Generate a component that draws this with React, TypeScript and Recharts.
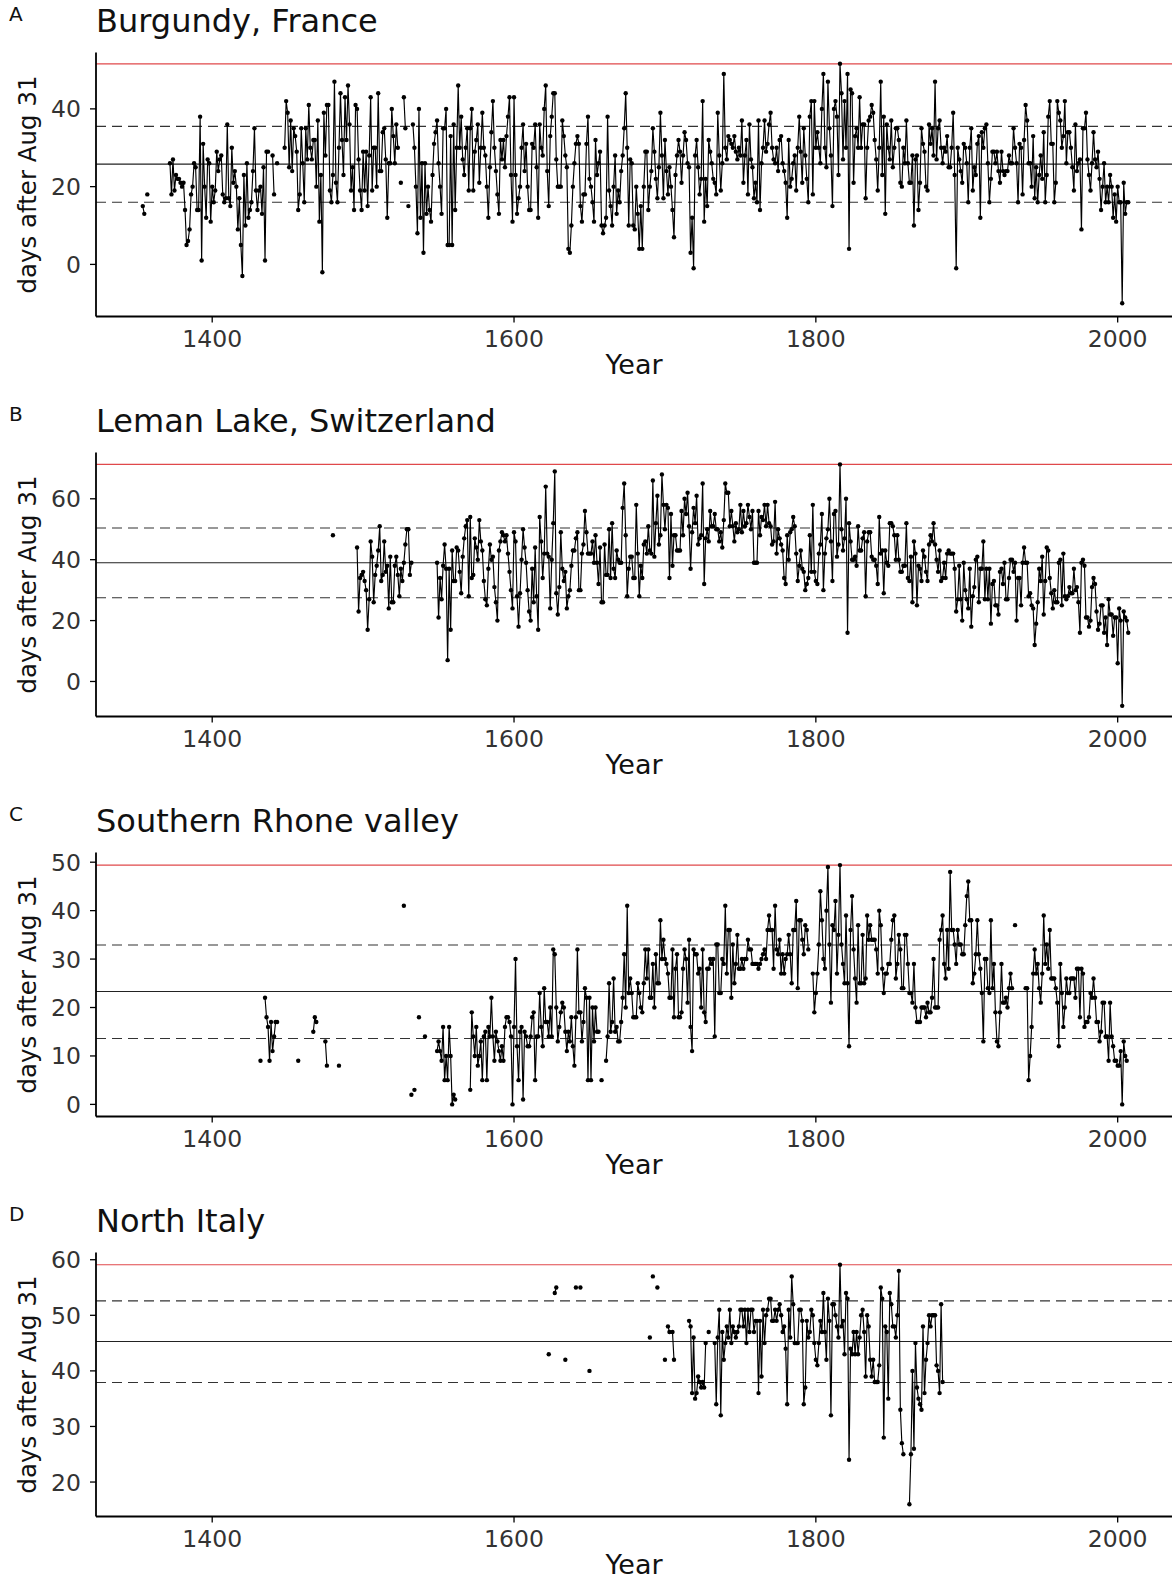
import { Line, LineChart, ReferenceLine, XAxis, YAxis } from 'recharts';

// harvest dates, days after Aug 31, one value per year (null = no record)
const BURGUNDY_FROM = 1350;
const BURGUNDY = [
  null, null, null, null, 15, 13, null, 18, null, null,
  null, null, null, null, null, null, null, null, null, null,
  null, null, 26, 18, 27, 19, 23, 22, 22, 21,
  20, 21, 14, 5, 6, 9, 18, 20, 26, 25,
  14, 14, 38, 1, 31, 20, 12, 27, 26, 11,
  20, 16, 19, 29, 24, 27, 28, 18, 16, 17,
  36, 17, 15, 30, 21, 24, 20, 9, 17, 5,
  -3, 23, 10, 26, 12, 14, 16, 24, 35, 19,
  14, 19, 20, 13, 25, 1, 29, 29, null, null,
  28, 18, null, 26, null, null, null, null, 30, 42,
  39, 25, 37, 24, 35, 33, 29, 14, 18, 35,
  26, 16, 35, 27, 41, 30, 27, 32, 32, 20,
  37, 11, 23, -2, 39, 28, 41, 41, 19, 16,
  23, 47, 21, 16, 30, 44, 32, 23, 43, 32,
  46, 36, 19, 25, 14, 41, 40, 27, 19, 14,
  29, 19, 29, 15, 28, 43, 19, 30, 30, 20,
  44, 24, 24, 34, 35, 27, 12, 26, 26, 40,
  33, 26, 36, 30, null, 21, null, 43, 35, null,
  15, null, null, 36, 30, 20, 8, 40, 12, 26,
  3, 26, 13, 20, 14, 11, 23, 31, 34, 37,
  26, 20, 13, 35, 35, 40, 5, 5, 33, 5,
  36, 14, 30, 46, 30, 38, 27, 23, 30, 35,
  19, 35, 40, 19, 29, 32, 36, 21, 30, 39,
  30, 28, 20, 12, 25, 34, 42, 30, 24, 18,
  13, 32, 27, 32, 25, 33, 38, 43, 23, 11,
  43, 23, 13, 17, 20, 30, 36, 24, 31, 20,
  14, 14, 31, 30, 36, 25, 12, 36, 30, 28,
  40, 46, 24, 15, 33, 38, 44, 44, 27, 20,
  20, 20, 37, 33, 28, 25, 4, 3, 10, 20,
  26, 31, 33, 31, 15, 11, 18, 18, 31, 38,
  22, 20, 16, 11, 32, 23, 26, 29, 10, 8,
  10, 12, 38, 19, 15, 10, 20, 28, 13, 19,
  16, 24, 28, 35, 44, 30, 10, 27, 26, 10,
  9, 20, 13, 4, 15, 4, 20, 29, 29, 14,
  20, 24, 35, 29, 22, 17, 25, 39, 28, 17,
  32, 24, 18, 25, 20, 14, 7, 23, 28, 32,
  29, 21, 28, 34, 32, 26, 25, 3, 12, -1,
  28, 32, 25, 18, 22, 42, 11, 22, 15, 32,
  29, 26, 22, 21, 18, 39, 28, 19, 26, 49,
  30, 27, 33, 32, 31, 30, 33, 29, 27, 30,
  28, 37, 21, 28, 32, 18, 36, 27, 25, 17,
  21, 16, 37, 14, 26, 30, 37, 29, 31, 36,
  39, 30, 27, 26, 30, 24, 32, 33, 26, 24,
  21, 12, 32, 20, 22, 26, 28, 19, 30, 38,
  29, 21, 35, 28, 22, 16, 38, 42, 18, 42,
  30, 34, 30, 26, 40, 49, 30, 25, 47, 35,
  28, 15, 40, 42, 38, 23, 51.6, 44, 27, 42,
  30, 49, 4, 45, 44, 21, 33, 35, 30, 43,
  30, 36, 36, 17, 30, 37, 38, 41, 39, 32,
  27, 19, 30, 47, 23, 38, 13, 36, 30, 27,
  37, 25, 30, 35, 35, 32, 21, 20, 30, 26,
  37, 26, 21, 21, 28, 10, 27, 28, 14, 21,
  35, 31, 29, 20, 19, 36, 31, 35, 28, 47,
  27, 35, 37, 30, 26, 30, 29, 33, 25, 25,
  30, 39, 23, -1, 30, 27, 24, 21, 31, 30,
  26, 16, 30, 35, 19, 25, 23, 31, 33, 12,
  34, 30, 35, 36, 26, 16, 22, 29, 29, 26,
  29, 24, 21, 29, 24, 23, 24, 24, 28, 26,
  26, 35, 30, 26, 16, 31, 30, 18, 32, 41,
  37, 26, 26, 20, 33, 17, 25, 16, 23, 28,
  22, 34, 16, 23, 38, 42, 31, 31, 16, 21,
  42, 39, 37, 30, 33, 42, 26, 34, 34, 30,
  25, 19, 36, 24, 26, 27, 9, 35, 35, 39,
  27, 23, 19, 26, 34, 27, 25, 29, 22, 14,
  20, 26, 16, 20, 16, 23, 20, 12, 18, 11,
  20, 16, 16, -10, 21, 13, 16, 16,
];

const LEMAN_FROM = 1480;
const LEMAN = [
  48, null, null, null, null, null, null, null, null, null,
  null, null, null, null, null, null, 44, 23, 34, 35,
  36, 33, 30, 17, 27, 46, 41, 26, 35, 38,
  43, 51, 33, 35, 46, 36, 38, 24, 41, 26,
  26, 38, 41, 35, 28, 37, 33, 39, 45, 50,
  50, 35, 39, null, null, null, null, null, null, null,
  null, null, null, null, null, null, null, null, null, 39,
  21, 34, 27, 38, 45, 37, 7, 37, 17, 43,
  33, 33, 44, 43, 36, 29, 41, 47, 51, 53,
  28, 54, 34, 35, 47, 44, 40, 53, 46, 43,
  33, 27, 25, 37, 45, 40, 41, 31, 26, 20,
  43, 46, 49, 48, 46, 48, 42, 36, 30, 24,
  49, 46, 28, 18, 29, 40, 50, 44, 39, 30,
  23, 20, 37, 26, 44, 28, 17, 54, 46, 34,
  42, 64, 42, 41, 24, 40, 52, 69, 29, 22,
  31, 49, 37, 33, 36, 24, 28, 30, 38, 43,
  43, 47, 49, 30, 30, 42, 45, 56, 49, 42,
  42, 42, 46, 39, 48, 39, 32, 44, 26, 26,
  45, 35, 35, 50, 34, 52, 37, 34, 43, 40,
  39, 39, 57, 65, 48, 28, 37, 41, 41, 34,
  34, 58, 42, 28, 38, 34, 45, 46, 42, 51,
  43, 42, 66, 41, 52, 61, 45, 48, 68, 58,
  50, 58, 57, 34, 55, 38, 48, 48, 43, 43,
  43, 56, 48, 60, 55, 62, 51, 37, 49, 57,
  52, 61, 45, 47, 48, 65, 32, 47, 50, 46,
  56, 51, 51, 55, 50, 50, 46, 49, 44, 53,
  65, 62, 62, 51, 56, 51, 46, 52, 49, 50,
  58, 49, 56, 51, 52, 58, 54, 50, 56, 39,
  39, 39, 56, 48, 54, 53, 58, 51, 58, 52,
  51, 45, 46, 59, 42, 50, 47, 45, 43, 34,
  32, 48, 40, 49, 50, 54, 51, 42, 33, 38,
  43, 37, 36, 30, 32, 34, 48, 36, 58, 36,
  33, 32, 42, 45, 55, 30, 42, 47, 50, 60,
  46, 33, 55, 56, 41, 45, 71.3, 50, 43, 47,
  60, 16, 52, 46, 40, 40, 41, 38, 51, 43,
  43, 47, 49, 28, 46, 49, 49, 41, 40, 40,
  38, 32, 54, 42, 43, 29, 43, 39, 38, 52,
  52, 51, 48, 40, 48, 40, 36, 36, 38, 38,
  52, 34, 33, 41, 26, 46, 42, 25, 38, 37,
  33, 43, 41, 36, 33, 45, 48, 46, 52, 45,
  40, 36, 43, 33, 34, 39, 34, 42, 43, 42,
  42, 42, 37, 23, 27, 38, 27, 20, 39, 30,
  27, 24, 37, 18, 28, 31, 40, 41, 26, 37,
  37, 46, 27, 37, 27, 37, 19, 32, 33, 25,
  25, 22, 36, 37, 32, 39, 27, 27, 34, 40,
  40, 36, 39, 20, 34, 34, 25, 39, 44, 39,
  39, 28, 29, 25, 24, 12, 19, 26, 37, 33,
  41, 22, 33, 44, 43, 34, 29, 24, 30, 26,
  26, 39, 40, 25, 42, 28, 27, 28, 31, 29,
  29, 37, 30, 31, 26, 16, 39, 40, 38, 21,
  21, 18, 20, 31, 34, 32, 23, 17, 19, 25,
  25, 16, 21, 12, 27, 22, 22, 15, 21, 21,
  6, 24, 20, -8, 23, 21, 20, 16,
];

const RHONE_FROM = 1430;
const RHONE = [
  null, null, 9, null, null, 22, 18, 16, 9, 17,
  11, 14, 17, 17, null, null, null, null, null, null,
  null, null, null, null, null, null, null, 9, null, null,
  null, null, null, null, null, null, null, 15, 18, 17,
  null, null, null, null, null, 13, 8, null, null, null,
  null, null, null, null, 8, null, null, null, null, null,
  null, null, null, null, null, null, null, null, null, null,
  null, null, null, null, null, null, null, null, null, null,
  null, null, null, null, null, null, null, null, null, null,
  null, null, null, null, null, null, null, 41, null, null,
  null, null, 2, null, 3, null, null, 18, null, null,
  null, 14, null, null, null, null, null, null, null, 11,
  13, 11, 9, 16, 5, 10, 5, 16, 10, 0,
  2, 1, null, null, null, null, null, null, null, null,
  null, 3, 19, 14, 10, 16, 8, 10, 13, 5,
  14, 15, 5, 16, 14, 22, 14, 9, 15, 13,
  11, 9, 12, 9, 16, 18, 18, 17, 14, 0,
  16, 30, 12, 5, 15, 16, 1, 15, 14, 12,
  12, 14, 18, 19, 5, 14, 14, 23, 16, 12,
  24, 17, 17, 14, 20, 14, 32, 31, 20, 13,
  16, 19, 21, 20, 15, 11, 15, 13, 18, 12,
  8, 18, 32, 19, 19, 13, 17, 24, 22, 5,
  22, 5, 20, 13, 20, 15, 15, null, 5, null,
  null, 9, 14, 25, 15, 17, 26, 15, 16, 13,
  13, 17, 22, 31, 20, 41, 23, 26, 23, 18,
  18, 18, 25, 23, 20, 19, 25, 32, 26, 32,
  22, 22, 29, 20, 31, 25, 25, 38, 30, 34,
  30, 29, 27, 22, 22, 32, 18, 28, 31, 18,
  18, 19, 28, 32, 30, 21, 34, 16, 11, 32,
  31, 31, 27, 28, 20, 32, 19, 17, 28, 28,
  30, 29, 30, 14, 33, 33, 23, 23, 30, 29,
  41, 27, 36, 36, 22, 33, 25, 29, 35, 28,
  28, 30, 28, 30, 30, 34, 32, 32, 29, 29,
  29, 29, 28, 29, 30, 31, 32, 30, 36, 39,
  36, 36, 28, 41, 32, 31, 34, 27, 31, 27,
  30, 31, 35, 31, 25, 36, 36, 42, 24, 38,
  38, 34, 31, 37, 36, 32, null, null, 27, 19,
  23, 27, 33, 44, 38, 30, 28, 40, 49, 33,
  21, 37, 36, 42, 27, 35, 49.4, 33, 29, 25,
  39, 25, 12, 36, 43, 32, 26, 21, 37, 25,
  25, 35, 25, 26, 39, 34, 37, 34, 34, 34,
  32, 27, 40, 37, 28, 23, 27, 27, 29, 29,
  34, 38, 39, 26, 29, 35, 32, 24, 24, 35,
  35, 29, 23, 23, 21, 29, 20, 17, 17, 17,
  20, 20, 20, 18, 21, 19, 19, 22, 30, 20,
  20, 20, 34, 36, 39, 29, 26, 36, 28, 48,
  36, 36, 33, 29, 36, 33, 33, 31, 31, 37,
  43, 46, 38, 38, 25, 27, 31, 38, 31, 28,
  23, 13, 30, 30, 24, 23, 38, 24, 29, 19,
  13, 12, 19, 29, 21, 21, 22, 20, 24, 27,
  24, null, 37, null, null, null, null, null, null, 24,
  24, 5, 10, 16, 27, 32, 27, 29, 24, 21,
  27, 39, 29, 33, 28, 36, 26, 26, 26, 24,
  21, 12, 29, 23, 16, 20, 26, 23, 23, 26,
  26, 26, 22, 28, 28, 18, 28, 27, 16, 17,
  17, 18, 23, 22, 26, 22, 17, 17, 13, 15,
  21, 21, 14, 14, 9, 21, 14, 12, 9, 9,
  8, 8, 11, 0, 13, 10, 9,
];

const ITALY_FROM = 1620;
const ITALY = [
  null, null, null, 43, null, null, null, 54, 55, null,
  null, null, null, null, 42, null, null, null, null, null,
  null, 55, null, null, 55, null, null, null, null, null,
  40, null, null, null, null, null, null, null, null, null,
  null, null, null, null, null, null, null, null, null, null,
  null, null, null, null, null, null, null, null, null, null,
  null, null, null, null, null, null, null, null, null, null,
  46, null, 57, null, null, 55, null, null, null, null,
  42, null, 48, 47, null, 47, 42, null, null, null,
  null, null, null, null, null, null, 49, 48, 36, 46,
  35, 36, 39, 38, 37, 38, 37, 45, null, 47,
  null, null, null, 45, 34, 46, 51, 32, 47, 42,
  45, 48, 46, 51, 45, 48, 47, 46, 47, 48,
  51, 51, 48, 51, 45, 51, 47, 51, 51, 47,
  49, 49, 36, 49, 39, 51, 45, 50, 51, 53,
  53, 49, 49, 51, 49, 51, 52, 50, 47, 48,
  44, 34, 51, 46, 57, 52, 45, 45, 45, 51,
  51, 49, 34, 37, 49, 46, 47, 51, 50, 45,
  42, 41, 45, 49, 47, 54, 47, 42, 53, 49,
  32, 52, 52, 50, 48, 46, 59.1, 48, 49, 43,
  54, 53, 24, 44, 43, 47, 43, 47, 43, 46,
  50, 51, 47, 39, 50, 48, 42, 39, 42, 38,
  38, 38, 41, 55, 53, 28, 48, 47, 35, 54,
  52, 48, 48, 46, 50, 58, 33, 27, 25, null,
  null, null, 16, 25, 40, 26, 45, 37, 35, 34,
  33, 48, 36, 42, 45, 50, 48, 50, 50, 50,
  41, 40, 36, 52, 38,
];

// max, mean + sd, mean, mean - sd
const BURGUNDY_LINES = [51.6, 35.5, 25.8, 16.0];
const LEMAN_LINES = [71.3, 50.4, 39.0, 27.5];
const RHONE_LINES = [49.4, 32.9, 23.3, 13.6];
const ITALY_LINES = [59.1, 52.6, 45.3, 37.9];

const X_TICKS = [1400, 1600, 1800, 2000];
const BURGUNDY_TICKS = [0, 20, 40];
const LEMAN_TICKS = [0, 20, 40, 60];
const RHONE_TICKS = [0, 10, 20, 30, 40, 50];
const ITALY_TICKS = [20, 30, 40, 50, 60];

const W = 1172;
const PANEL_H = 400;
const PLOT_TOP = 52.5;
const PLOT_H = 264;
const FONT = '"DejaVu Sans", sans-serif';

const toRows = (from: number, values: (number | null)[]) =>
  values.map((v, i) => ({ year: from + i, v }));

const XTick = (props: any) => {
  const { x, y, payload } = props;
  return (
    <text x={x} y={y + 22} textAnchor="middle" fontSize={23.5} fontFamily={FONT} fill="#333">
      {payload.value}
    </text>
  );
};

const YTick = (props: any) => {
  const { x, y, payload } = props;
  return (
    <text x={x - 7} y={y + 8.5} textAnchor="end" fontSize={23.5} fontFamily={FONT} fill="#333">
      {payload.value}
    </text>
  );
};

interface PanelProps {
  tag: string;
  title: string;
  from: number;
  values: (number | null)[];
  domain: [number, number];
  ticks: number[];
  lines: number[];
  top: number;
}

const Panel = ({ tag, title, from, values, domain, ticks, lines, top }: PanelProps) => {
  const data = toRows(from, values);
  return (
    <div style={{ position: 'absolute', left: 0, top, width: W, height: PANEL_H }}>
      <LineChart
        width={W}
        height={PANEL_H}
        data={data}
        margin={{ top: PLOT_TOP, right: 0, bottom: 0, left: 0 }}
      >
        <XAxis
          dataKey="year"
          type="number"
          domain={[1323, 2036]}
          ticks={X_TICKS}
          allowDataOverflow
          interval={0}
          height={PANEL_H - PLOT_TOP - PLOT_H}
          axisLine={{ stroke: '#000', strokeWidth: 1.8 }}
          tickLine={{ stroke: '#000', strokeWidth: 1.3 }}
          tickSize={6}
          tick={<XTick />}
        />
        <YAxis
          type="number"
          domain={domain}
          ticks={ticks}
          allowDataOverflow
          interval={0}
          width={96}
          axisLine={{ stroke: '#000', strokeWidth: 1.8 }}
          tickLine={{ stroke: '#000', strokeWidth: 1.3 }}
          tickSize={6}
          tick={<YTick />}
        />
        <ReferenceLine y={lines[0]} stroke="#e0484b" strokeWidth={1.2} />
        <ReferenceLine y={lines[1]} stroke="#333" strokeWidth={1.1} strokeDasharray="10 6" />
        <ReferenceLine y={lines[2]} stroke="#222" strokeWidth={1.1} />
        <ReferenceLine y={lines[3]} stroke="#333" strokeWidth={1.1} strokeDasharray="10 6" />
        <Line
          dataKey="v"
          stroke="#000"
          strokeWidth={1.15}
          dot={{ r: 2.2, fill: '#000', stroke: 'none' }}
          activeDot={false}
          isAnimationActive={false}
          connectNulls={false}
        />
      </LineChart>
      <svg
        width={W}
        height={PANEL_H}
        style={{ position: 'absolute', left: 0, top: 0, pointerEvents: 'none' }}
      >
        <text x={9} y={21} fontSize={20} fontFamily={FONT} fill="#111">{tag}</text>
        <text x={96} y={32} fontSize={32} fontFamily={FONT} fill="#111">{title}</text>
        <text
          transform={`translate(36, ${PLOT_TOP + PLOT_H / 2}) rotate(-90)`}
          textAnchor="middle"
          fontSize={24.5}
          fontFamily={FONT}
          fill="#111"
        >
          days after Aug 31
        </text>
        <text x={634} y={374} textAnchor="middle" fontSize={27} fontFamily={FONT} fill="#111">
          Year
        </text>
      </svg>
    </div>
  );
};

export default function App() {
  return (
    <div
      style={{
        position: 'absolute',
        left: 0,
        top: 0,
        width: W,
        height: 1583,
        overflow: 'hidden',
        background: '#fff',
      }}
    >
      <Panel tag="A" title="Burgundy, France" from={BURGUNDY_FROM} values={BURGUNDY}
        domain={[-13.4, 54.5]} ticks={BURGUNDY_TICKS} lines={BURGUNDY_LINES} top={0} />
      <Panel tag="B" title="Leman Lake, Switzerland" from={LEMAN_FROM} values={LEMAN}
        domain={[-11.5, 75.2]} ticks={LEMAN_TICKS} lines={LEMAN_LINES} top={400} />
      <Panel tag="C" title="Southern Rhone valley" from={RHONE_FROM} values={RHONE}
        domain={[-2.5, 52]} ticks={RHONE_TICKS} lines={RHONE_LINES} top={800} />
      <Panel tag="D" title="North Italy" from={ITALY_FROM} values={ITALY}
        domain={[13.8, 61.3]} ticks={ITALY_TICKS} lines={ITALY_LINES} top={1200} />
    </div>
  );
}
